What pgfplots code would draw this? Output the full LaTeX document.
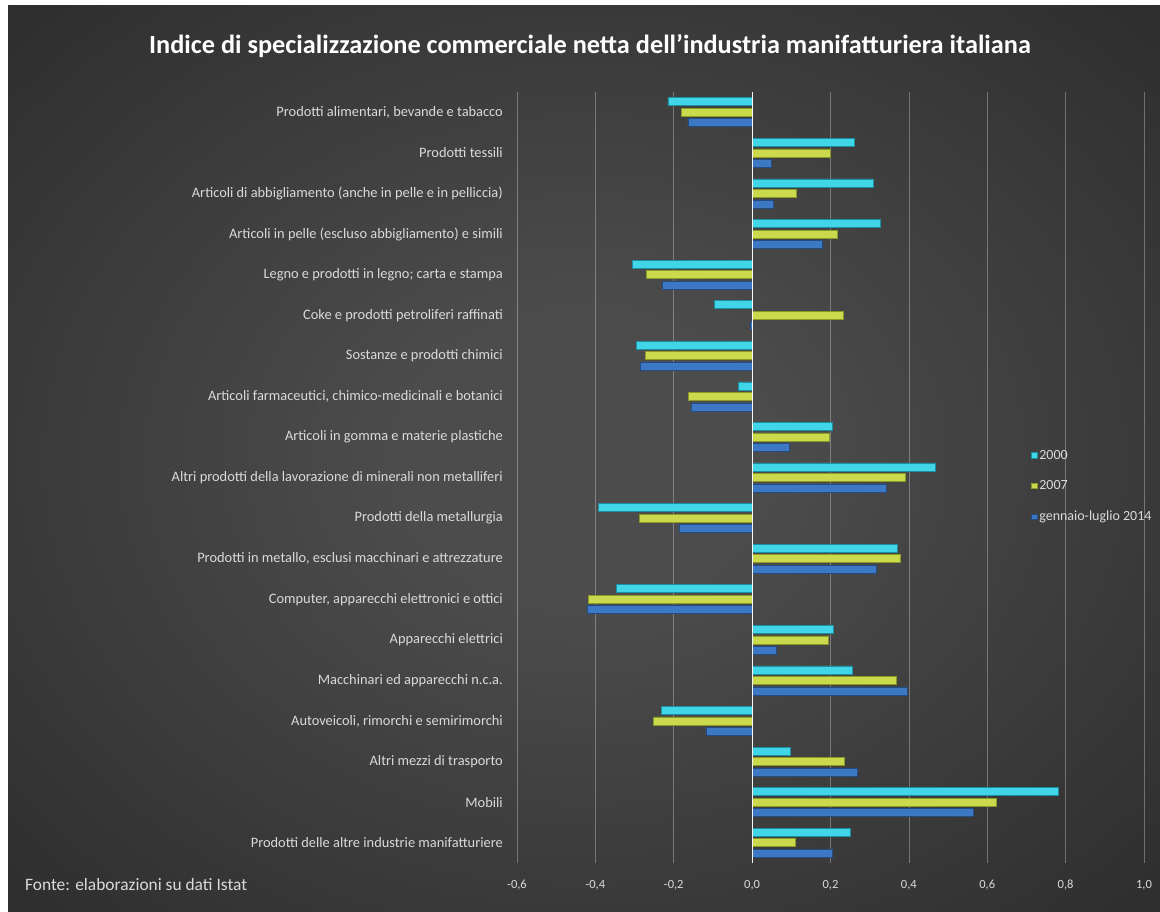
\documentclass[border=0pt]{standalone}
\usepackage{pgfplots}
\pgfplotsset{compat=1.18}
\usepackage{fontspec}
\setmainfont{Carlito}
\definecolor{cyM}{HTML}{40D6E8}
\definecolor{cyD}{HTML}{1E8FA0}
\definecolor{yeM}{HTML}{CADA4C}
\definecolor{yeD}{HTML}{8A9A26}
\definecolor{blM}{HTML}{3C78C4}
\definecolor{blD}{HTML}{244C82}
\definecolor{bgIn}{HTML}{4C4C4C}
\definecolor{bgOut}{HTML}{262626}
\definecolor{lab}{HTML}{DADADA}
\pgfdeclareradialshading{bgshade}{\pgfpoint{0bp}{0bp}}{color(0bp)=(bgIn); color(8bp)=(bgIn); color(42bp)=(bgOut); color(50bp)=(bgOut)}
\begin{document}
\begin{tikzpicture}[x=1bp,y=1bp]
\useasboundingbox (0,0) rectangle (1160,912);
\fill[white] (0,0) rectangle (1160,912);
\shade[shading=bgshade] (8,0) rectangle (1160,906);
\node[text=white, font=\bfseries\fontsize{26.3bp}{30bp}\selectfont] at (590,866) {Indice di specializzazione commerciale netta dell'industria manifatturiera italiana};
\node[anchor=west, text=lab, font=\fontsize{17.4bp}{19bp}\selectfont, inner sep=0pt] at (25,27) {Fonte: elaborazioni su dati Istat};
\begin{axis}[
  at={(517bp,49bp)}, anchor=south west,
  width=627bp, height=771bp, scale only axis,
  xmin=-0.6, xmax=1.0, ymin=-0.5, ymax=18.5,
  xtick={-0.6,-0.4,...,1.01},
  ytick={0,...,18},
  yticklabels={
    {Prodotti delle altre industrie manifatturiere},
    {Mobili},
    {Altri mezzi di trasporto},
    {Autoveicoli, rimorchi e semirimorchi},
    {Macchinari ed apparecchi n.c.a.},
    {Apparecchi elettrici},
    {Computer, apparecchi elettronici e ottici},
    {Prodotti in metallo, esclusi macchinari e attrezzature},
    {Prodotti della metallurgia},
    {Altri prodotti della lavorazione di minerali non metalliferi},
    {Articoli in gomma e materie plastiche},
    {Articoli farmaceutici, chimico-medicinali e botanici},
    {Sostanze e prodotti chimici},
    {Coke e prodotti petroliferi raffinati},
    {Legno e prodotti in legno; carta e stampa},
    {Articoli in pelle (escluso abbigliamento) e simili},
    {Articoli di abbigliamento (anche in pelle e in pelliccia)},
    {Prodotti tessili},
    {Prodotti alimentari, bevande e tabacco}},
  axis line style={draw=none},
  major tick length=0pt,
  xmajorgrids,
  major grid style={white, opacity=0.3, line width=0.7bp},
  /pgf/number format/.cd, use comma, fixed, fixed zerofill, precision=1, assume math mode=true,
  /pgfplots/.cd,
  xticklabel style={text=lab, font=\fontsize{12.5bp}{14bp}\selectfont, inner sep=0pt, anchor=north, yshift=-17bp},
  yticklabel style={text=lab, font=\fontsize{14.4bp}{16bp}\selectfont, inner sep=0pt, anchor=east, xshift=-14bp},
  xbar, bar width=8bp,
  legend style={at={(0.815,0.541)}, anchor=north west, draw=none, fill=none,
    text=lab, font=\fontsize{14bp}{16bp}\selectfont, row sep=16bp,
    /tikz/every even column/.append style={column sep=1bp}},
  legend cell align=left,
  legend image code/.code={\fill[#1] (0bp,-2.8bp) rectangle (5.5bp,2.8bp);},
]
\addplot[bar shift=10.5bp, fill=cyM, draw=cyD, line width=0.6bp] coordinates {
(-0.215,18) (0.260,17) (0.310,16) (0.326,15) (-0.305,14) (-0.097,13) (-0.295,12) (-0.036,11) (0.205,10) (0.467,9)
(-0.392,8) (0.371,7) (-0.346,6) (0.208,5) (0.256,4) (-0.231,3) (0.097,2) (0.782,1) (0.251,0)};
\addlegendentry{2000}
\addplot[bar shift=0bp, fill=yeM, draw=yeD, line width=0.6bp] coordinates {
(-0.180,18) (0.200,17) (0.113,16) (0.217,15) (-0.270,14) (0.233,13) (-0.272,12) (-0.162,11) (0.196,10) (0.390,9)
(-0.287,8) (0.377,7) (-0.418,6) (0.195,5) (0.367,4) (-0.251,3) (0.236,2) (0.623,1) (0.110,0)};
\addlegendentry{2007}
\addplot[bar shift=-10.5bp, fill=blM, draw=blD, line width=0.6bp] coordinates {
(-0.164,18) (0.050,17) (0.054,16) (0.180,15) (-0.228,14) (-0.004,13) (-0.285,12) (-0.154,11) (0.095,10) (0.343,9)
(-0.187,8) (0.318,7) (-0.420,6) (0.061,5) (0.397,4) (-0.118,3) (0.269,2) (0.564,1) (0.205,0)};
\addlegendentry{gennaio-luglio 2014}
\draw[white, line width=1bp, opacity=0.95] (axis cs:0,-0.5) -- (axis cs:0,18.5);
\end{axis}
\end{tikzpicture}
\end{document}
